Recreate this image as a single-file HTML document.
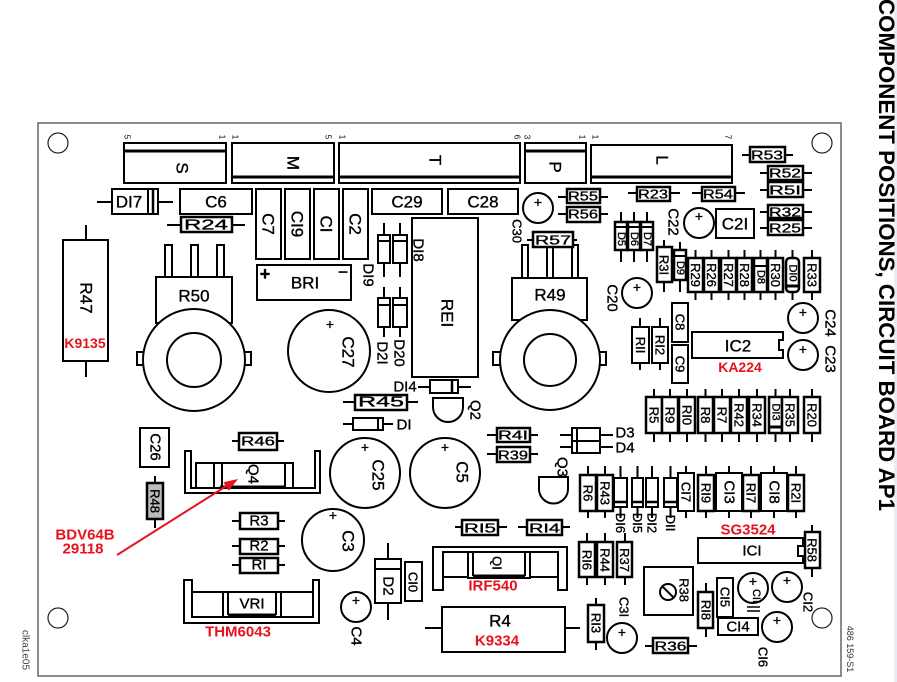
<!DOCTYPE html>
<html><head><meta charset="utf-8"><style>
html,body{margin:0;padding:0;background:#fff;}
svg{display:block}
text{font-family:"Liberation Sans",Arial,sans-serif;fill:#000;stroke:#000;stroke-width:0.35;text-anchor:middle;dominant-baseline:central}
.a{font-size:17px}
.b{font-size:15px}
.c{font-size:13px}
.d{font-size:11px}
.r{fill:#e8121c;stroke:none;font-weight:bold;font-size:14px}
.t{font-size:8px;stroke:none}
</style></head><body>
<svg width="897" height="682" viewBox="0 0 897 682" xmlns="http://www.w3.org/2000/svg">
<rect x="894" y="0" width="3" height="682" fill="#e6eef7"/>
<text x="0" y="0" transform="translate(879,-1) rotate(90)" style="font-size:22px;font-weight:bold;stroke:none;text-anchor:start;dominant-baseline:alphabetic" textLength="512" lengthAdjust="spacingAndGlyphs">COMPONENT POSITIONS, CIRCUIT BOARD AP1</text>
<text transform="translate(850,649) rotate(90)" style="font-size:9px;fill:#333;stroke:none">486 159-S1</text>
<text transform="translate(25,650) rotate(90)" style="font-size:10px;fill:#444;stroke:none">clka1e05</text>

<rect x="38" y="123" width="803" height="553" fill="none" stroke="#666" stroke-width="1.5"/>
<g fill="none" stroke="#222" stroke-width="1.2">
<circle cx="58" cy="143" r="10"/><circle cx="822" cy="143" r="10"/><circle cx="58" cy="618" r="10"/><circle cx="822" cy="618" r="10"/>
</g>

<g stroke="#000" stroke-width="2" fill="#fff">
<rect x="124" y="143" width="102" height="40"/><line x1="124" y1="151" x2="226" y2="151" stroke-width="3"/>
<rect x="232" y="143" width="102" height="40"/><line x1="232" y1="177" x2="334" y2="177" stroke-width="3"/>
<rect x="339" y="143" width="181" height="40"/><line x1="339" y1="177" x2="520" y2="177" stroke-width="3"/>
<rect x="525" y="143" width="61" height="40"/><line x1="525" y1="151" x2="586" y2="151" stroke-width="3"/>
<rect x="591" y="145" width="141" height="38"/><line x1="591" y1="177" x2="732" y2="177" stroke-width="3"/>

<line x1="97" y1="202" x2="173" y2="202"/>
<rect x="112" y="189" width="46" height="25"/>
<line x1="148" y1="189" x2="148" y2="214"/><line x1="153" y1="189" x2="153" y2="214" stroke-width="2.5"/>
<rect x="180" y="189" width="72" height="25"/>
<line x1="167" y1="225" x2="245" y2="225"/>
<rect x="181" y="217" width="51" height="15" stroke-width="2.5"/>

<rect x="256" y="189" width="25" height="70"/>
<rect x="285" y="189" width="25" height="70"/>
<rect x="314" y="189" width="25" height="70"/>
<rect x="343" y="189" width="25" height="70"/>
<rect x="372" y="189" width="70" height="25"/>
<rect x="448" y="189" width="70" height="25"/>

<rect x="257" y="265" width="94" height="35"/>

<line x1="86" y1="225" x2="86" y2="377"/>
<rect x="63" y="240" width="45" height="121"/>

<rect x="165" y="245" width="7" height="32"/><rect x="191" y="245" width="7" height="32"/><rect x="217" y="245" width="7" height="32"/>
<rect x="156" y="277" width="76" height="46"/>
<rect x="137" y="352" width="8" height="13"/><rect x="243" y="352" width="8" height="13"/>
<circle cx="194" cy="360" r="51"/><circle cx="194" cy="360" r="27"/>

<circle cx="329" cy="351" r="41"/>

<line x1="384" y1="223" x2="384" y2="277"/><line x1="400" y1="223" x2="400" y2="277"/>
<rect x="378" y="235" width="12" height="28"/><rect x="393" y="235" width="14" height="28"/>
<line x1="378" y1="241" x2="390" y2="241"/><line x1="393" y1="241" x2="407" y2="241"/>
<line x1="384" y1="287" x2="384" y2="337"/><line x1="400" y1="287" x2="400" y2="337"/>
<rect x="378" y="298" width="12" height="29"/><rect x="393" y="298" width="14" height="29"/>
<line x1="378" y1="305" x2="390" y2="305"/><line x1="393" y1="305" x2="407" y2="305"/>

<rect x="412" y="218" width="66" height="159"/>

<line x1="418" y1="387" x2="471" y2="387"/>
<rect x="430" y="380" width="28" height="13"/><line x1="452" y1="380" x2="452" y2="393" stroke-width="2.5"/>
<path d="M433,398 H463 V407 A15,15 0 0 1 433,407 Z"/>
<line x1="343" y1="402" x2="418" y2="402"/>
<rect x="355" y="395" width="52" height="15" stroke-width="2.5"/>
<line x1="343" y1="424" x2="393" y2="424"/>
<rect x="353" y="418" width="30" height="12"/><line x1="378" y1="418" x2="378" y2="430"/>

<circle cx="365" cy="473" r="35"/>
<circle cx="445" cy="473" r="35"/>

<line x1="487" y1="435" x2="538" y2="435"/><rect x="497" y="428" width="33" height="14" stroke-width="2.5"/>
<line x1="487" y1="454" x2="538" y2="454"/><rect x="497" y="447" width="33" height="15" stroke-width="2.5"/>
<line x1="560" y1="435" x2="613" y2="435"/><line x1="560" y1="447" x2="613" y2="447"/>
<rect x="572" y="428" width="28" height="25"/><line x1="572" y1="441" x2="600" y2="441"/><line x1="577" y1="428" x2="577" y2="453"/>
<path d="M539,477 H568 V489 A14.5,14.5 0 0 1 539,489 Z"/>

<rect x="522" y="245" width="6" height="33"/><rect x="547" y="245" width="6" height="33"/><rect x="572" y="245" width="6" height="33"/>
<rect x="512" y="278" width="75" height="42"/>
<rect x="493" y="352" width="8" height="13"/><rect x="598" y="352" width="8" height="13"/>
<circle cx="550" cy="360" r="50"/><circle cx="550" cy="360" r="26"/>

<circle cx="538" cy="208" r="15"/>
<line x1="558" y1="197" x2="608" y2="197"/><rect x="567" y="189" width="33" height="14" stroke-width="2.5"/>
<line x1="558" y1="214" x2="608" y2="214"/><rect x="567" y="207" width="33" height="15" stroke-width="2.5"/>
<line x1="527" y1="240" x2="577" y2="240"/><rect x="533" y="232" width="40" height="15" stroke-width="2.5"/>

<line x1="628" y1="193" x2="680" y2="193"/><rect x="637" y="187" width="33" height="14" stroke-width="2.5"/>
<line x1="692" y1="193" x2="745" y2="193"/><rect x="702" y="187" width="33" height="14" stroke-width="2.5"/>
<line x1="742" y1="155" x2="793" y2="155"/><rect x="750" y="147" width="35" height="15" stroke-width="2.5"/>
<line x1="760" y1="173" x2="812" y2="173"/><rect x="768" y="166" width="35" height="14" stroke-width="2.5"/>
<line x1="760" y1="190" x2="812" y2="190"/><rect x="768" y="182" width="35" height="15" stroke-width="2.5"/>
<line x1="760" y1="212" x2="812" y2="212"/><rect x="768" y="205" width="35" height="13" stroke-width="2.5"/>
<line x1="760" y1="228" x2="812" y2="228"/><rect x="768" y="220" width="35" height="15" stroke-width="2.5"/>

<rect x="716" y="209" width="38" height="29"/>
<circle cx="699" cy="223" r="15"/>
<circle cx="637" cy="293" r="15"/>

<line x1="621" y1="212" x2="621" y2="262"/><line x1="634" y1="212" x2="634" y2="262"/><line x1="647" y1="212" x2="647" y2="262"/>
<rect x="615" y="222" width="12" height="28" stroke-width="2.5"/><rect x="628" y="222" width="12" height="28" stroke-width="2.5"/><rect x="641" y="222" width="12" height="28" stroke-width="2.5"/>
<line x1="615" y1="227" x2="653" y2="227"/>

<line x1="664" y1="240" x2="664" y2="292"/><rect x="657" y="247" width="15" height="35" stroke-width="2.5"/>
<line x1="680" y1="242" x2="680" y2="292"/><rect x="674" y="250" width="12" height="30" stroke-width="2.5"/><line x1="674" y1="256" x2="686" y2="256"/>

<g>
<line x1="695.5" y1="250" x2="695.5" y2="300"/><line x1="711.5" y1="250" x2="711.5" y2="300"/><line x1="728.5" y1="250" x2="728.5" y2="300"/><line x1="744.5" y1="250" x2="744.5" y2="300"/>
<line x1="760.5" y1="250" x2="760.5" y2="300"/><line x1="775.5" y1="250" x2="775.5" y2="300"/><line x1="792.5" y1="250" x2="792.5" y2="300"/><line x1="812" y1="250" x2="812" y2="300"/>
<rect x="688" y="258" width="15" height="34" stroke-width="2.5"/><rect x="704" y="258" width="15" height="34" stroke-width="2.5"/>
<rect x="721" y="258" width="15" height="34" stroke-width="2.5"/><rect x="737" y="258" width="15" height="34" stroke-width="2.5"/>
<rect x="754" y="258" width="13" height="34" stroke-width="2.5"/><line x1="754" y1="266" x2="767" y2="266"/>
<rect x="768" y="258" width="15" height="34" stroke-width="2.5"/>
<rect x="786" y="258" width="13" height="34" rx="4" stroke-width="2.5"/><line x1="786" y1="286" x2="799" y2="286" stroke-width="3"/>
<rect x="804" y="258" width="16" height="34" stroke-width="2.5"/>
</g>

<rect x="672" y="303" width="16" height="39"/>
<rect x="672" y="345" width="16" height="38"/>
<line x1="640" y1="318" x2="640" y2="370"/><rect x="632" y="327" width="17" height="36"/>
<line x1="660" y1="318" x2="660" y2="370"/><rect x="652" y="327" width="16" height="36"/>
<path d="M692,332 H783 V340 H779 V350 H783 V358 H692 Z"/>
<circle cx="803" cy="318" r="15"/>
<circle cx="803" cy="355" r="15"/>

<line x1="654" y1="389" x2="654" y2="442"/><line x1="670" y1="389" x2="670" y2="442"/><line x1="687" y1="389" x2="687" y2="442"/>
<line x1="705.5" y1="389" x2="705.5" y2="442"/><line x1="722" y1="389" x2="722" y2="442"/><line x1="739" y1="389" x2="739" y2="442"/>
<line x1="757" y1="389" x2="757" y2="442"/><line x1="775.5" y1="389" x2="775.5" y2="442"/><line x1="790" y1="389" x2="790" y2="442"/><line x1="812" y1="389" x2="812" y2="442"/>
<rect x="646" y="397" width="16" height="36" stroke-width="2.5"/><rect x="662" y="397" width="16" height="36" stroke-width="2.5"/>
<rect x="679" y="397" width="16" height="36" stroke-width="2.5"/><rect x="698" y="397" width="15" height="36" stroke-width="2.5"/>
<rect x="714" y="397" width="16" height="36" stroke-width="2.5"/><rect x="731" y="397" width="16" height="36" stroke-width="2.5"/>
<rect x="749" y="397" width="16" height="36" stroke-width="2.5"/><rect x="769" y="397" width="13" height="36" stroke-width="2.5"/>
<line x1="769" y1="427" x2="782" y2="427" stroke-width="3"/>
<rect x="782" y="397" width="16" height="36" stroke-width="2.5"/><rect x="804" y="397" width="16" height="36" stroke-width="2.5"/>

<line x1="588" y1="466" x2="588" y2="518"/><line x1="605" y1="466" x2="605" y2="518"/><line x1="620.5" y1="466" x2="620.5" y2="518"/>
<line x1="637.5" y1="466" x2="637.5" y2="518"/><line x1="652" y1="466" x2="652" y2="518"/><line x1="670.5" y1="466" x2="670.5" y2="518"/>
<line x1="686" y1="466" x2="686" y2="518"/><line x1="706" y1="466" x2="706" y2="518"/><line x1="729" y1="466" x2="729" y2="518"/>
<line x1="751" y1="466" x2="751" y2="518"/><line x1="774" y1="466" x2="774" y2="518"/><line x1="796" y1="466" x2="796" y2="518"/>
<rect x="580" y="475" width="16" height="36" stroke-width="2.5"/><rect x="597" y="475" width="16" height="36" stroke-width="2.5"/>
<rect x="614" y="478" width="13" height="29"/><line x1="614" y1="502" x2="627" y2="502" stroke-width="2.5"/>
<rect x="632" y="478" width="11" height="29"/><line x1="632" y1="502" x2="643" y2="502" stroke-width="2.5"/>
<rect x="646" y="478" width="12" height="29"/><line x1="646" y1="502" x2="658" y2="502" stroke-width="2.5"/>
<rect x="664" y="478" width="13" height="29"/><line x1="664" y1="502" x2="677" y2="502" stroke-width="2.5"/>
<rect x="678" y="473" width="16" height="38"/>
<rect x="698" y="475" width="16" height="36" stroke-width="2.5"/>
<rect x="716" y="473" width="26" height="38"/>
<rect x="743" y="475" width="16" height="36" stroke-width="2.5"/>
<rect x="761" y="473" width="26" height="38"/>
<rect x="788" y="475" width="16" height="36" stroke-width="2.5"/>

<line x1="455" y1="527" x2="507" y2="527"/><rect x="462" y="520" width="36" height="15" stroke-width="2.5"/>
<line x1="518" y1="527" x2="570" y2="527"/><rect x="527" y="520" width="35" height="15" stroke-width="2.5"/>

<path d="M698,538 H803 V546 H798 V556 H803 V563 H698 Z"/>
<line x1="812" y1="525" x2="812" y2="577"/><rect x="805" y="532" width="15" height="36" stroke-width="2.5"/>

<line x1="587" y1="533" x2="587" y2="585"/><rect x="579" y="542" width="16" height="35" stroke-width="2.5"/>
<line x1="605" y1="533" x2="605" y2="585"/><rect x="597" y="542" width="16" height="35" stroke-width="2.5"/>
<line x1="625" y1="533" x2="625" y2="585"/><rect x="617" y="542" width="15" height="35" stroke-width="2.5"/>

<path d="M433,590 V547 H567 V590 H558 V552 H443 V590 Z"/>
<line x1="443" y1="577" x2="468" y2="577"/><line x1="530" y1="577" x2="558" y2="577"/>
<rect x="468" y="552" width="62" height="26"/>
<line x1="473" y1="552" x2="473" y2="576"/><line x1="525" y1="552" x2="525" y2="576"/><line x1="473" y1="576" x2="525" y2="576" stroke-width="3"/>

<line x1="425" y1="628" x2="580" y2="628"/>
<rect x="442" y="607" width="123" height="45"/>

<line x1="596" y1="598" x2="596" y2="650"/><rect x="588" y="605" width="16" height="37" stroke-width="2.5"/>
<circle cx="622" cy="638" r="15"/>
<line x1="645" y1="646" x2="697" y2="646"/><rect x="653" y="638" width="35" height="15" stroke-width="2.5"/>

<rect x="644" y="567" width="49" height="48"/>
<circle cx="668" cy="592" r="8"/><line x1="662" y1="586" x2="674" y2="598"/>

<line x1="706" y1="583" x2="706" y2="637"/><rect x="698" y="592" width="15" height="36" stroke-width="2.5"/>
<rect x="717" y="578" width="16" height="39"/>
<rect x="718" y="618" width="40" height="17"/>
<circle cx="753" cy="588" r="15"/>
<line x1="747" y1="607" x2="760" y2="607" stroke-width="1.5"/><line x1="747" y1="611" x2="760" y2="611" stroke-width="1.5"/>
<circle cx="787" cy="587" r="15"/>
<circle cx="777" cy="627" r="15"/>

<rect x="140" y="428" width="29" height="39"/>
<line x1="155" y1="476" x2="155" y2="528"/><rect x="147" y="483" width="16" height="36" fill="#bbb" stroke-width="2.5"/>
<line x1="232" y1="441" x2="284" y2="441"/><rect x="239" y="433" width="38" height="17" stroke-width="2.5"/>

<path d="M185,451 V493 H320 V451 H315 V488 H191 V451 Z"/>
<rect x="196" y="463" width="97" height="25"/>
<line x1="214" y1="463" x2="214" y2="488"/><line x1="222" y1="463" x2="222" y2="488"/><line x1="285" y1="463" x2="285" y2="488"/>
<line x1="220" y1="487" x2="285" y2="487" stroke-width="3"/>

<line x1="232" y1="521" x2="285" y2="521"/><rect x="240" y="513" width="38" height="16" stroke-width="2.5"/>
<line x1="232" y1="546" x2="285" y2="546"/><rect x="240" y="539" width="38" height="15" stroke-width="2.5"/>
<line x1="232" y1="565" x2="285" y2="565"/><rect x="240" y="558" width="38" height="15" stroke-width="2.5"/>

<circle cx="333" cy="540" r="31"/>

<path d="M184,580 V623 H319 V580 H313 V617 H192 V580 Z"/>
<line x1="192" y1="592" x2="223" y2="592"/><line x1="281" y1="592" x2="313" y2="592"/>
<rect x="223" y="592" width="58" height="25"/>
<line x1="228" y1="592" x2="228" y2="615"/><line x1="276" y1="592" x2="276" y2="615"/><line x1="228" y1="615" x2="276" y2="615" stroke-width="3"/>

<line x1="388" y1="543" x2="388" y2="620"/>
<rect x="375" y="559" width="26" height="44"/><line x1="375" y1="569" x2="401" y2="569"/>
<rect x="405" y="562" width="17" height="39"/>
<circle cx="356" cy="607" r="15"/>
</g>

<line x1="117" y1="555" x2="228" y2="485" stroke="#e8121c" stroke-width="2"/>
<polygon points="238,479 228.8,490.6 223.4,482.2" fill="#e8121c"/>

<g>
<text class="t" transform="translate(127,137) rotate(90)">5</text><text class="t" transform="translate(222,137) rotate(90)">1</text>
<text class="t" transform="translate(235,137) rotate(90)">1</text><text class="t" transform="translate(328,137) rotate(90)">5</text>
<text class="t" transform="translate(342,137) rotate(90)">1</text><text class="t" transform="translate(517,137) rotate(90)">6</text>
<text class="t" transform="translate(527,137) rotate(90)">3</text><text class="t" transform="translate(582,137) rotate(90)">1</text>
<text class="t" transform="translate(595,137) rotate(90)">1</text><text class="t" transform="translate(728,137) rotate(90)">7</text>

<text class="a" transform="translate(182,168) rotate(90)">S</text>
<text class="a" transform="translate(293,163) rotate(90)">M</text>
<text class="a" transform="translate(435,160) rotate(90)">T</text>
<text class="a" transform="translate(555,167) rotate(90)">P</text>
<text class="a" transform="translate(662,160) rotate(90)">L</text>

<text class="a" x="129" y="202">DI7</text>
<text class="a" x="216" y="202">C6</text>
<text class="b" x="206" y="225" textLength="44" lengthAdjust="spacingAndGlyphs">R24</text>
<text class="a" transform="translate(268,224) rotate(90)">C7</text>
<text class="a" transform="translate(297,224) rotate(90)">CI9</text>
<text class="a" transform="translate(326,224) rotate(90)">CI</text>
<text class="a" transform="translate(355,224) rotate(90)">C2</text>
<text class="a" x="407" y="202">C29</text>
<text class="a" x="483" y="202">C28</text>
<text style="font-size:18px;font-weight:bold" x="265" y="274">+</text>
<text style="font-size:18px" x="343" y="272">−</text>
<text class="a" x="305" y="283">BRI</text>
<text class="a" transform="translate(86,298) rotate(90)">R47</text>
<text class="r" x="85" y="343">K9135</text>
<text class="a" x="194" y="296">R50</text>
<text style="font-size:14px" x="330" y="324">+</text>
<text class="a" transform="translate(348,352) rotate(90)">C27</text>
<text class="b" transform="translate(418,250) rotate(90)">DI8</text>
<text class="b" transform="translate(368,275) rotate(90)">DI9</text>
<text class="b" transform="translate(382,353) rotate(90)">D2I</text>
<text class="b" transform="translate(399,353) rotate(90)">D20</text>
<text class="a" transform="translate(447,313) rotate(90)">REI</text>
<text class="b" x="405" y="387">DI4</text>
<text class="b" transform="translate(475,410) rotate(90)">Q2</text>
<text class="b" x="381" y="402" textLength="46" lengthAdjust="spacingAndGlyphs">R45</text>
<text class="b" x="404" y="425">DI</text>
<text style="font-size:14px" x="365" y="447">+</text>
<text class="a" transform="translate(378,475) rotate(90)">C25</text>
<text style="font-size:14px" x="445" y="447">+</text>
<text class="a" transform="translate(462,472) rotate(90)">C5</text>
<text class="c" x="513" y="435" textLength="30" lengthAdjust="spacingAndGlyphs">R4I</text>
<text class="c" x="513" y="455" textLength="30" lengthAdjust="spacingAndGlyphs">R39</text>
<text class="b" x="625" y="433">D3</text>
<text class="b" x="625" y="448">D4</text>
<text class="b" transform="translate(562,467) rotate(90)">Q3</text>
<text class="a" x="550" y="295">R49</text>
<text style="font-size:14px" x="538" y="202">+</text>
<text class="c" transform="translate(517,231) rotate(90)">C30</text>
<text class="c" x="583" y="196" textLength="30" lengthAdjust="spacingAndGlyphs">R55</text>
<text class="c" x="583" y="214" textLength="30" lengthAdjust="spacingAndGlyphs">R56</text>
<text class="c" x="553" y="240" textLength="36" lengthAdjust="spacingAndGlyphs">R57</text>
<text class="c" x="653" y="194" textLength="30" lengthAdjust="spacingAndGlyphs">R23</text>
<text class="c" x="718" y="194" textLength="30" lengthAdjust="spacingAndGlyphs">R54</text>
<text class="c" x="767" y="155" textLength="32" lengthAdjust="spacingAndGlyphs">R53</text>
<text class="c" x="785" y="173" textLength="32" lengthAdjust="spacingAndGlyphs">R52</text>
<text class="c" x="785" y="190" textLength="32" lengthAdjust="spacingAndGlyphs">R5I</text>
<text class="c" x="785" y="212" textLength="32" lengthAdjust="spacingAndGlyphs">R32</text>
<text class="c" x="785" y="228" textLength="32" lengthAdjust="spacingAndGlyphs">R25</text>
<text class="a" x="735" y="224">C2I</text>
<text style="font-size:14px" x="699" y="216">+</text>
<text class="b" transform="translate(673,222) rotate(90)">C22</text>
<text style="font-size:14px" x="637" y="287">+</text>
<text class="b" transform="translate(612,298) rotate(90)">C20</text>
<text class="d" transform="translate(621,239) rotate(90)">D5</text>
<text class="d" transform="translate(634,239) rotate(90)">D6</text>
<text class="d" transform="translate(647,239) rotate(90)">D7</text>
<text class="c" transform="translate(664,265) rotate(90)">R3I</text>
<text class="d" transform="translate(680,268) rotate(90)">D9</text>
<text class="c" transform="translate(695.5,275) rotate(90)">R29</text>
<text class="c" transform="translate(711.5,275) rotate(90)">R26</text>
<text class="c" transform="translate(728.5,275) rotate(90)">R27</text>
<text class="c" transform="translate(744.5,275) rotate(90)">R28</text>
<text class="d" transform="translate(760.5,277) rotate(90)">D8</text>
<text class="c" transform="translate(775.5,275) rotate(90)">R30</text>
<text class="d" transform="translate(792.5,273) rotate(90)">DI0</text>
<text class="c" transform="translate(812,275) rotate(90)">R33</text>
<text class="c" transform="translate(680,322) rotate(90)">C8</text>
<text class="c" transform="translate(680,364) rotate(90)">C9</text>
<text class="c" transform="translate(640.5,345) rotate(90)">RII</text>
<text class="c" transform="translate(660,345) rotate(90)">RI2</text>
<text class="a" x="738" y="346">IC2</text>
<text class="r" x="740" y="367">KA224</text>
<text style="font-size:14px" x="803" y="312">+</text>
<text style="font-size:14px" x="803" y="349">+</text>
<text class="b" transform="translate(830,323) rotate(90)">C24</text>
<text class="b" transform="translate(830,359) rotate(90)">C23</text>

<text class="c" transform="translate(654,415) rotate(90)">R5</text>
<text class="c" transform="translate(670,415) rotate(90)">R9</text>
<text class="c" transform="translate(687,415) rotate(90)">RI0</text>
<text class="c" transform="translate(705.5,415) rotate(90)">R8</text>
<text class="c" transform="translate(722,415) rotate(90)">R7</text>
<text class="c" transform="translate(739,415) rotate(90)">R42</text>
<text class="c" transform="translate(757,415) rotate(90)">R34</text>
<text class="d" transform="translate(775.5,412) rotate(90)">DI3</text>
<text class="c" transform="translate(790,415) rotate(90)">R35</text>
<text class="c" transform="translate(812,415) rotate(90)">R20</text>

<text class="c" transform="translate(588,493) rotate(90)">R6</text>
<text class="c" transform="translate(605,493) rotate(90)">R43</text>
<text class="c" transform="translate(620.5,523) rotate(90)">DI6</text>
<text class="c" transform="translate(637.5,523) rotate(90)">DI5</text>
<text class="c" transform="translate(652,523) rotate(90)">DI2</text>
<text class="c" transform="translate(670.5,523) rotate(90)">DII</text>
<text class="c" transform="translate(686,492) rotate(90)">CI7</text>
<text class="c" transform="translate(706,493) rotate(90)">RI9</text>
<text class="b" transform="translate(729,492) rotate(90)">CI3</text>
<text class="c" transform="translate(751,493) rotate(90)">RI7</text>
<text class="b" transform="translate(774,492) rotate(90)">CI8</text>
<text class="c" transform="translate(796,493) rotate(90)">R2I</text>

<text class="c" x="480" y="528" textLength="32" lengthAdjust="spacingAndGlyphs">RI5</text>
<text class="c" x="544.5" y="528" textLength="31" lengthAdjust="spacingAndGlyphs">RI4</text>
<text class="r" style="font-size:15px" x="748" y="530">SG3524</text>
<text class="b" x="752" y="551">ICI</text>
<text class="c" transform="translate(812,550) rotate(90)">R58</text>
<text class="c" transform="translate(587,560) rotate(90)">RI6</text>
<text class="c" transform="translate(605,560) rotate(90)">R44</text>
<text class="c" transform="translate(624.5,560) rotate(90)">R37</text>

<text class="c" transform="translate(497,563) rotate(90)">QI</text>
<text class="r" style="font-size:15px" x="493" y="586">IRF540</text>
<text class="a" x="500" y="621">R4</text>
<text class="r" style="font-size:15px" x="497" y="641">K9334</text>
<text class="c" transform="translate(596,623) rotate(90)">RI3</text>
<text style="font-size:14px" x="622" y="632">+</text>
<text class="c" transform="translate(624,607) rotate(90)">C3I</text>
<text class="c" x="670.5" y="646" textLength="32" lengthAdjust="spacingAndGlyphs">R36</text>
<text class="c" transform="translate(684,590) rotate(90)">R38</text>
<text class="c" transform="translate(706,610) rotate(90)">RI8</text>
<text class="c" transform="translate(725,597) rotate(90)">CI5</text>
<text class="b" x="738" y="627">CI4</text>
<text style="font-size:14px" x="753" y="581">+</text>
<text class="d" transform="translate(756,596) rotate(90)">CII</text>
<text style="font-size:14px" x="787" y="580">+</text>
<text class="c" transform="translate(808,602) rotate(90)">CI2</text>
<text style="font-size:14px" x="777" y="620">+</text>
<text class="c" transform="translate(763,657) rotate(90)">CI6</text>

<text class="b" transform="translate(155,447) rotate(90)">C26</text>
<text class="c" transform="translate(155,501) rotate(90)">R48</text>
<text class="c" x="258" y="441" textLength="34" lengthAdjust="spacingAndGlyphs">R46</text>
<text class="b" transform="translate(253,474) rotate(90)">Q4</text>
<text class="r" style="font-size:15px" x="85" y="535">BDV64B</text>
<text class="r" style="font-size:15px" x="83" y="549">29118</text>
<text class="b" x="259" y="521">R3</text>
<text class="b" x="259" y="546">R2</text>
<text class="b" x="259" y="565">RI</text>
<text style="font-size:14px" x="333" y="515">+</text>
<text class="a" transform="translate(348,541) rotate(90)">C3</text>
<text class="b" x="252" y="604">VRI</text>
<text class="r" style="font-size:15px" x="238" y="632">THM6043</text>
<text class="b" transform="translate(388,586) rotate(90)">D2</text>
<text class="c" transform="translate(413,582) rotate(90)">CI0</text>
<text style="font-size:14px" x="356" y="600">+</text>
<text class="b" transform="translate(356,636) rotate(90)">C4</text>
</g>
</svg>
</body></html>
